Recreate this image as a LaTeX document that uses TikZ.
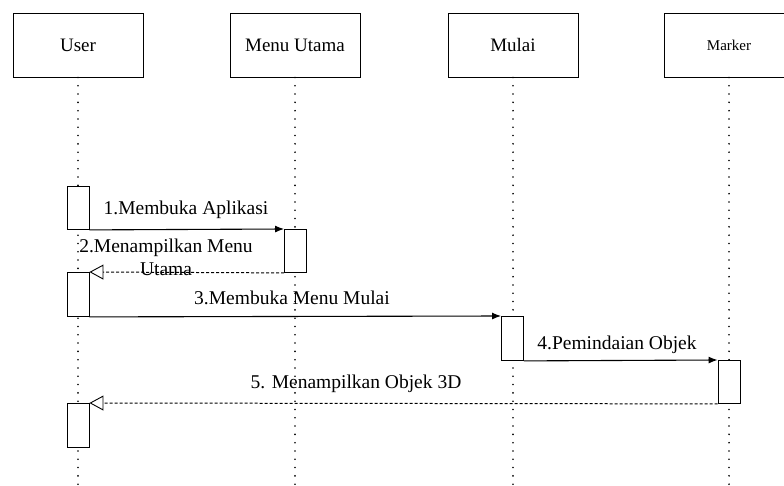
\documentclass[tikz,border=0pt]{standalone}
\usepackage{fontspec}
\setmainfont{LiberationSerif}[Extension=.ttf, UprightFont=*-Regular, BoldFont=*-Bold]
\usetikzlibrary{arrows.meta,positioning}

\tikzset{
  object/.style = {draw, line width=0.9pt, minimum width=130pt, minimum height=64pt,
    font=\fontsize{19}{22}\selectfont},
  lifeline/.style = {line width=1.8pt, dash pattern=on 0pt off 8.3pt, line cap=round},
  activ/.style = {draw, line width=0.9pt, fill=white, minimum width=22pt, anchor=north,
    inner sep=0pt},
  callmsg/.style = {line width=1.1pt, -{Latex[length=9pt,width=7pt]}},
  retmsg/.style = {line width=1pt, dash pattern=on 3pt off 2pt,
    -{Triangle[open,length=14pt,width=15pt,line width=0.9pt]}},
  msglabel/.style = {font=\fontsize{19.5}{23}\selectfont, inner sep=0pt, align=center}
}

\begin{document}
\begin{tikzpicture}[x=1pt, y=-1pt]
\useasboundingbox (0,0) rectangle (784,485);

% objects
\node[object] (user)   at (78,45)  {User};
\node[object] (menu)   at (295,45) {Menu Utama};
\node[object] (mulai)  at (513,45) {Mulai};
\node[object, font=\fontsize{15}{18}\selectfont] (marker) at (729,45) {Marker};

% lifelines
\coordinate (bottom) at (0,487);
\foreach \obj in {user,menu,mulai,marker}
  \draw[lifeline] (\obj.south) -- (\obj.south |- bottom);

% activations
\node[activ, minimum height=43pt] (u1) at (78,186)  {};
\node[activ, minimum height=43pt] (m1) at (295.5,229) {};
\node[activ, minimum height=44pt] (u2) at (78,272)  {};
\node[activ, minimum height=44pt] (s1) at (512.5,316) {};
\node[activ, minimum height=43pt] (k1) at (729,360) {};
\node[activ, minimum height=44pt] (u3) at (78,403)  {};

% messages
\draw[callmsg] (u1.south east) -- (m1.north west);
\node[msglabel] (l1) at (186,210) {1.Membuka Aplikasi};

\draw[retmsg] (m1.south west) -- (u2.north east);
\node[msglabel] (l2) at (166,257) {2.Menampilkan Menu\\Utama};

\draw[callmsg] (u2.south east) -- (s1.north west);
\node[msglabel] (l3) at (292,298) {3.Membuka Menu Mulai};

\draw[callmsg] (s1.south east) -- (k1.north west);
\node[msglabel] (l4) at (617,345) {4.Pemindaian Objek};

\draw[retmsg] (k1.south west) -- (u3.north east);
\node[msglabel] (l5) at (356,384) {5. Menampilkan Objek 3D};

\end{tikzpicture}
\end{document}
